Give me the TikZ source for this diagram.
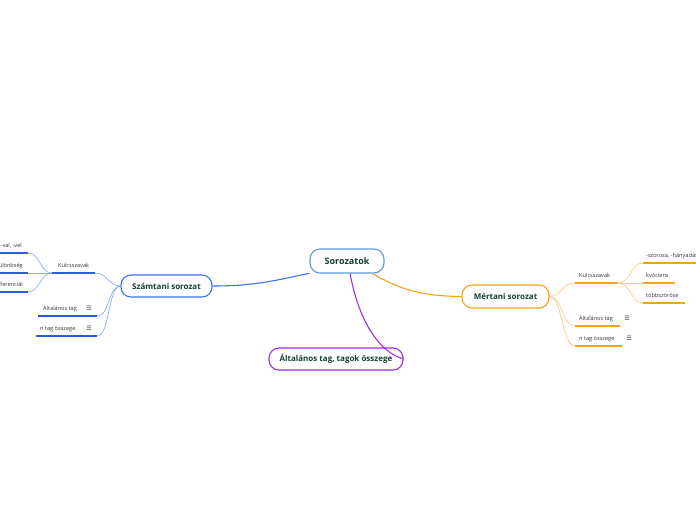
\documentclass[tikz,border=0pt]{standalone}
\usepackage{fontspec}
\setmainfont{Open Sans}
\newfontfamily\symfont{DejaVu Sans}
\definecolor{blueM}{HTML}{3B73F0}
\definecolor{blueL}{HTML}{8EADF6}
\definecolor{blueU}{HTML}{2D5BE0}
\definecolor{orgM}{HTML}{F8A21C}
\definecolor{orgL}{HTML}{FBCD85}
\definecolor{purp}{HTML}{A52BF0}
\definecolor{rootB}{HTML}{5A9BD5}
\definecolor{txtD}{HTML}{163F35}
\definecolor{leafT}{HTML}{333333}
\tikzset{
  mainbox/.style={draw, line width=1.1pt, fill=white, rounded corners=10pt, inner sep=0pt, text=txtD, font=\fontsize{8}{9}\selectfont\bfseries},
  leaftext/.style={anchor=base west, inner sep=0pt, text=leafT, font=\fontsize{5.6}{6}\selectfont},
  icon/.style={anchor=base, inner sep=0pt, text=leafT, font=\symfont\fontsize{6}{6}\selectfont},
  ulB/.style={draw=blueU, line width=1.4pt},
  ulO/.style={draw=orgM, line width=1.4pt},
  brB/.style={draw=blueL, line width=0.7pt},
  brO/.style={draw=orgL, line width=0.7pt},
}
\begin{document}
\begin{tikzpicture}[x=1pt, y=-1pt]
\useasboundingbox (0,0) rectangle (696,520);
\clip (0,0) rectangle (696,520);

% main nodes
\node[mainbox, draw=rootB, minimum width=74pt, minimum height=24pt, font=\fontsize{9}{10}\selectfont\bfseries] (root) at (347,261) {Sorozatok};
\node[mainbox, draw=blueM, minimum width=91pt, minimum height=22pt] (szam) at (166.5,286) {Számtani sorozat};
\node[mainbox, draw=orgM, minimum width=87pt, minimum height=23pt] (mert) at (505.5,296.5) {Mértani sorozat};
\node[mainbox, draw=purp, minimum width=134pt, minimum height=22pt] (alt) at (336,359) {Általános tag, tagok összege};

% main connectors
\draw[blueM, line width=1.1pt] (root.198) .. controls (270,282) and (250,286) .. (szam.east);
\draw[orgM, line width=1.1pt] (root.-26) .. controls (405,293) and (430,296) .. (mert.west);
\draw[purp, line width=1.1pt] (root.-76) .. controls (358,318) and (378,352) .. (alt.east);

% ---- left subtree ----
\coordinate (kL1) at (52,273); \coordinate (kR1) at (95,273);
\coordinate (aL1) at (38,316); \coordinate (aR1) at (97,316);
\coordinate (nL1) at (36,336); \coordinate (nR1) at (97,336);
\draw[ulB] (kL1) -- (kR1);
\draw[ulB] (aL1) -- (aR1);
\draw[ulB] (nL1) -- (nR1);
\node[leaftext] (kulc1) at (58,267) {Kulcsszavak};
\node[leaftext] (alt1) at (43,310) {Általános tag};
\node[icon] (i1) at (89,310) {☰};
\node[leaftext] (nt1) at (40,330) {n tag összege};
\node[icon] (i2) at (89,330) {☰};
\draw[brB] (szam.west) .. controls (108,286) and (108,273) .. (kR1);
\draw[brB] (szam.west) .. controls (108,286) and (110,316) .. (aR1);
\draw[brB] (szam.west) .. controls (108,286) and (110,336) .. (nR1);

\coordinate (v1) at (0,253); \coordinate (v2) at (28,253);
\coordinate (k1) at (0,273); \coordinate (k2) at (28,273);
\coordinate (d1) at (0,292); \coordinate (d2) at (28,292);
\draw[ulB] (v1) -- (v2);
\draw[ulB] (k1) -- (k2);
\draw[ulB] (d1) -- (d2);
\node[leaftext] (val) at (0.5,247) {-val, -vel};
\node[leaftext, anchor=base east] (kul) at (23,267) {különbség};
\node[leaftext, anchor=base east] (dif) at (23,286) {differenciál};
\draw[brB] (kL1) .. controls (40,273) and (40,253) .. (v2);
\draw[brB] (kL1) -- (k2);
\draw[brB] (kL1) .. controls (40,273) and (40,292) .. (d2);

% ---- right subtree ----
\coordinate (kL2) at (575,283); \coordinate (kR2) at (617,283);
\coordinate (aL2) at (575,326); \coordinate (aR2) at (620,326);
\coordinate (nL2) at (575,346); \coordinate (nR2) at (622,346);
\draw[ulO] (kL2) -- (kR2);
\draw[ulO] (aL2) -- (aR2);
\draw[ulO] (nL2) -- (nR2);
\node[leaftext] (kulc2) at (579,277) {Kulcsszavak};
\node[leaftext] (alt2) at (579,320) {Általános tag};
\node[icon] (i3) at (627,320) {☰};
\node[leaftext] (nt2) at (579,340) {n tag összege};
\node[icon] (i4) at (629,340) {☰};
\draw[brO] (mert.east) .. controls (562,296) and (562,283) .. (kL2);
\draw[brO] (mert.east) .. controls (562,296) and (562,326) .. (aL2);
\draw[brO] (mert.east) .. controls (562,296) and (562,346) .. (nL2);

\coordinate (s1) at (643,263); \coordinate (s2) at (697,263);
\coordinate (q1) at (643,283); \coordinate (q2) at (675,283);
\coordinate (t1) at (643,303); \coordinate (t2) at (685,303);
\draw[ulO] (s1) -- (s2);
\draw[ulO] (q1) -- (q2);
\draw[ulO] (t1) -- (t2);
\node[leaftext] (szor) at (646,257) {-szorosa, -hányadása};
\node[leaftext] (kvo) at (646,277) {kvóciens};
\node[leaftext] (tob) at (646,297) {többszöröse};
\draw[brO] (kR2) .. controls (632,283) and (630,263) .. (s1);
\draw[brO] (kR2) -- (q1);
\draw[brO] (kR2) .. controls (632,283) and (630,303) .. (t1);
\end{tikzpicture}
\end{document}
